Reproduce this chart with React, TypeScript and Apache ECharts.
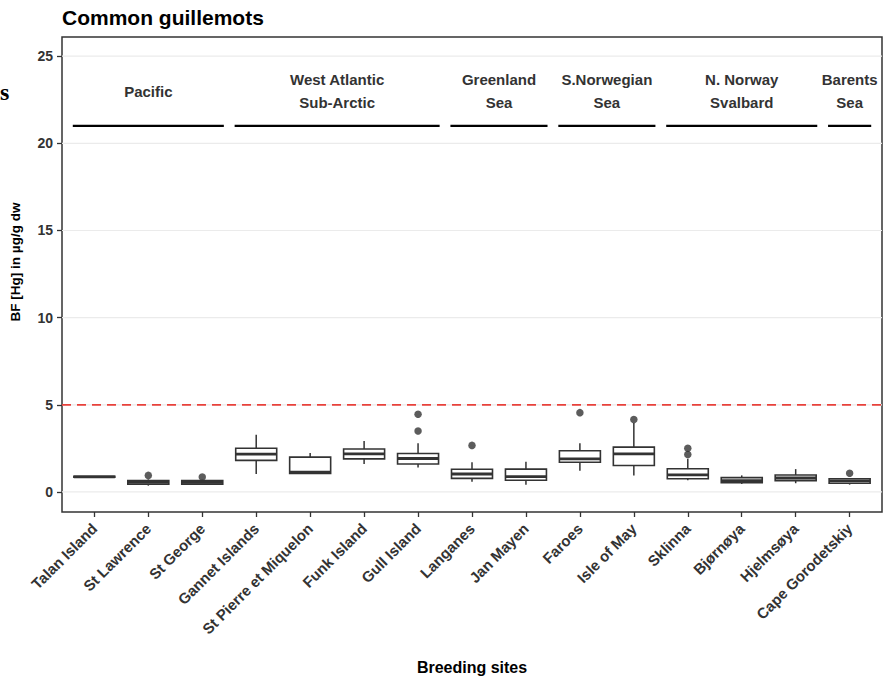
import React, { useEffect, useRef } from 'react';
import * as echarts from 'echarts';

const sites = ['Talan Island', 'St Lawrence', 'St George', 'Gannet Islands', 'St Pierre et Miquelon', 'Funk Island', 'Gull Island', 'Langanes', 'Jan Mayen', 'Faroes', 'Isle of May', 'Sklinna', 'Bjørnøya', 'Hjelmsøya', 'Cape Gorodetskiy'];
const boxMin = [0.84, 0.36, 0.42, 1.03, 1.05, 1.6, 1.41, 0.59, 0.42, 1.22, 0.95, 0.67, 0.46, 0.5, 0.42];
const boxQ1 = [0.85, 0.44, 0.45, 1.81, 1.06, 1.9, 1.6, 0.78, 0.67, 1.7, 1.52, 0.76, 0.53, 0.65, 0.5];
const boxMedian = [0.87, 0.55, 0.55, 2.17, 1.14, 2.19, 1.92, 1.03, 0.88, 1.9, 2.19, 0.98, 0.65, 0.8, 0.63];
const boxQ3 = [0.9, 0.66, 0.65, 2.51, 2.0, 2.46, 2.21, 1.3, 1.31, 2.36, 2.57, 1.33, 0.82, 0.97, 0.76];
const boxMax = [0.91, 0.72, 0.7, 3.28, 2.23, 2.93, 2.8, 1.7, 1.73, 2.8, 3.95, 1.9, 0.95, 1.31, 0.8];

const outlierSite = [1, 2, 6, 6, 7, 9, 10, 11, 11, 14];
const outlierValue = [0.95, 0.86, 4.46, 3.5, 2.67, 4.55, 4.15, 2.51, 2.15, 1.07];

const groupLabels = ['Pacific', 'West Atlantic\nSub-Arctic', 'Greenland\nSea', 'S.Norwegian\nSea', 'N. Norway\nSvalbard', 'Barents\nSea'];
const groupFirst = [0, 3, 7, 9, 11, 14];
const groupLast = [2, 6, 8, 10, 13, 14];
const groupLineValue = 21;
const groupLabelValue = 23;

const limitValue = [5];
const yTicks = [0, 5, 10, 15, 20, 25];
const xTicks = sites.map((_, i) => i);

const FONT = '"Liberation Sans", Arial, Helvetica, sans-serif';

export default function App() {
  const ref = useRef<HTMLDivElement>(null);
  useEffect(() => {
    if (!ref.current) return;
    const chart = echarts.init(ref.current, null, { renderer: 'svg' });
    const boxData = sites.map((_, i) => [i, boxMin[i], boxQ1[i], boxMedian[i], boxQ3[i], boxMax[i]]);
    const option: any = {
      animation: false,
      backgroundColor: '#fff',
      title: {
        text: 'Common guillemots',
        left: 57,
        top: 2,
        textStyle: { fontFamily: FONT, fontSize: 21, fontWeight: 'bold', color: '#000' },
      },
      graphic: [
        {
          type: 'text',
          left: 0,
          top: 80,
          style: { text: 's', font: 'bold 24px "Liberation Serif", "DejaVu Serif", serif', fill: '#000' },
        },
        {
          type: 'text',
          x: 15,
          y: 262,
          rotation: Math.PI / 2,
          style: {
            text: 'BF [Hg] in µg/g dw',
            fontFamily: FONT,
            fontSize: 13.5,
            fontWeight: 'bold',
            fill: '#000',
            align: 'center',
            verticalAlign: 'middle',
          },
        },
      ],
      grid: {
        left: 62,
        right: 3,
        top: 37,
        bottom: 166,
        show: true,
        borderColor: '#333',
        borderWidth: 1.5,
        backgroundColor: 'transparent',
      },
      xAxis: {
        type: 'value',
        min: -0.6,
        max: 14.6,
        axisLine: { show: false, onZero: false },
        splitLine: { show: false },
        axisTick: { show: true, customValues: xTicks, length: 5, lineStyle: { color: '#333', width: 1.3 } },
        axisLabel: {
          customValues: xTicks,
          formatter: (v: number) => sites[Math.round(v)] ?? '',
          rotate: 45,
          margin: 14,
          fontFamily: FONT,
          fontSize: 15,
          fontWeight: 'bold',
          color: '#333',
        },
        name: 'Breeding sites',
        nameLocation: 'middle',
        nameGap: 147,
        nameTextStyle: { fontFamily: FONT, fontSize: 16, fontWeight: 'bold', color: '#000' },
      },
      yAxis: {
        type: 'value',
        min: -1.15,
        max: 26.1,
        axisLine: { show: false, onZero: false },
        splitLine: { show: false },
        axisTick: { show: true, customValues: yTicks, length: 5, lineStyle: { color: '#333', width: 1.3 } },
        axisLabel: {
          customValues: yTicks,
          margin: 9,
          fontFamily: FONT,
          fontSize: 14,
          fontWeight: 'bold',
          color: '#333',
        },
      },
      series: [
        {
          type: 'custom',
          name: 'grid',
          silent: true,
          z: 0,
          data: yTicks.map((v) => [v]),
          renderItem: (params: any, api: any) => {
            const v = api.value(0);
            const a = api.coord([-0.6, v]);
            const b = api.coord([14.6, v]);
            return { type: 'line', shape: { x1: a[0], y1: a[1], x2: b[0], y2: b[1] }, style: { stroke: '#ebebeb', lineWidth: 1.2 } };
          },
        },
        {
          type: 'custom',
          name: 'limit',
          silent: true,
          z: 1,
          data: limitValue.map((v) => [v]),
          renderItem: (params: any, api: any) => {
            const v = api.value(0);
            const a = api.coord([-0.6, v]);
            const b = api.coord([14.6, v]);
            return { type: 'line', shape: { x1: a[0], y1: a[1], x2: b[0], y2: b[1] }, style: { stroke: '#e8413b', lineWidth: 1.8, lineDash: [9, 6] } };
          },
        },
        {
          type: 'custom',
          name: 'groupLines',
          silent: true,
          z: 2,
          data: groupFirst.map((f, i) => [f - 0.4, groupLast[i] + 0.4, groupLineValue]),
          renderItem: (params: any, api: any) => {
            const a = api.coord([api.value(0), api.value(2)]);
            const b = api.coord([api.value(1), api.value(2)]);
            return { type: 'line', shape: { x1: a[0], y1: a[1], x2: b[0], y2: b[1] }, style: { stroke: '#000', lineWidth: 2.4 } };
          },
        },
        {
          type: 'custom',
          name: 'groupLabels',
          silent: true,
          z: 2,
          data: groupFirst.map((f, i) => [(f + groupLast[i]) / 2, groupLabelValue, i]),
          renderItem: (params: any, api: any) => {
            const p = api.coord([api.value(0), api.value(1)]);
            return {
              type: 'text',
              x: p[0],
              y: p[1],
              style: {
                text: groupLabels[api.value(2)],
                fontFamily: FONT,
                fontSize: 15,
                fontWeight: 'bold',
                fill: '#333',
                align: 'center',
                verticalAlign: 'middle',
                lineHeight: 23,
              },
            };
          },
        },
        {
          type: 'custom',
          name: 'boxes',
          z: 3,
          data: boxData,
          renderItem: (params: any, api: any) => {
            const i = api.value(0);
            const pMin = api.coord([i, api.value(1)]);
            const pQ1 = api.coord([i, api.value(2)]);
            const pMed = api.coord([i, api.value(3)]);
            const pQ3 = api.coord([i, api.value(4)]);
            const pMax = api.coord([i, api.value(5)]);
            const hw = api.size([0.76, 0])[0] / 2;
            const x = pMed[0];
            const stroke = '#333';
            return {
              type: 'group',
              children: [
                { type: 'line', shape: { x1: x, y1: pMax[1], x2: x, y2: pQ3[1] }, style: { stroke, lineWidth: 1.5 } },
                { type: 'line', shape: { x1: x, y1: pQ1[1], x2: x, y2: pMin[1] }, style: { stroke, lineWidth: 1.5 } },
                { type: 'rect', shape: { x: x - hw, y: pQ3[1], width: hw * 2, height: Math.max(pQ1[1] - pQ3[1], 0.5) }, style: { fill: '#fff', stroke, lineWidth: 1.6 } },
                { type: 'line', shape: { x1: x - hw, y1: pMed[1], x2: x + hw, y2: pMed[1] }, style: { stroke, lineWidth: 2.8 } },
              ],
            };
          },
        },
        {
          type: 'scatter',
          name: 'outliers',
          z: 4,
          symbolSize: 7.5,
          itemStyle: { color: '#333' },
          data: outlierSite.map((s, i) => [s, outlierValue[i]]),
        },
      ],
    };
    chart.setOption(option);
    return () => chart.dispose();
  }, []);
  return <div ref={ref} style={{ position: 'absolute', left: 0, top: 0, width: 885, height: 680 }} />;
}
